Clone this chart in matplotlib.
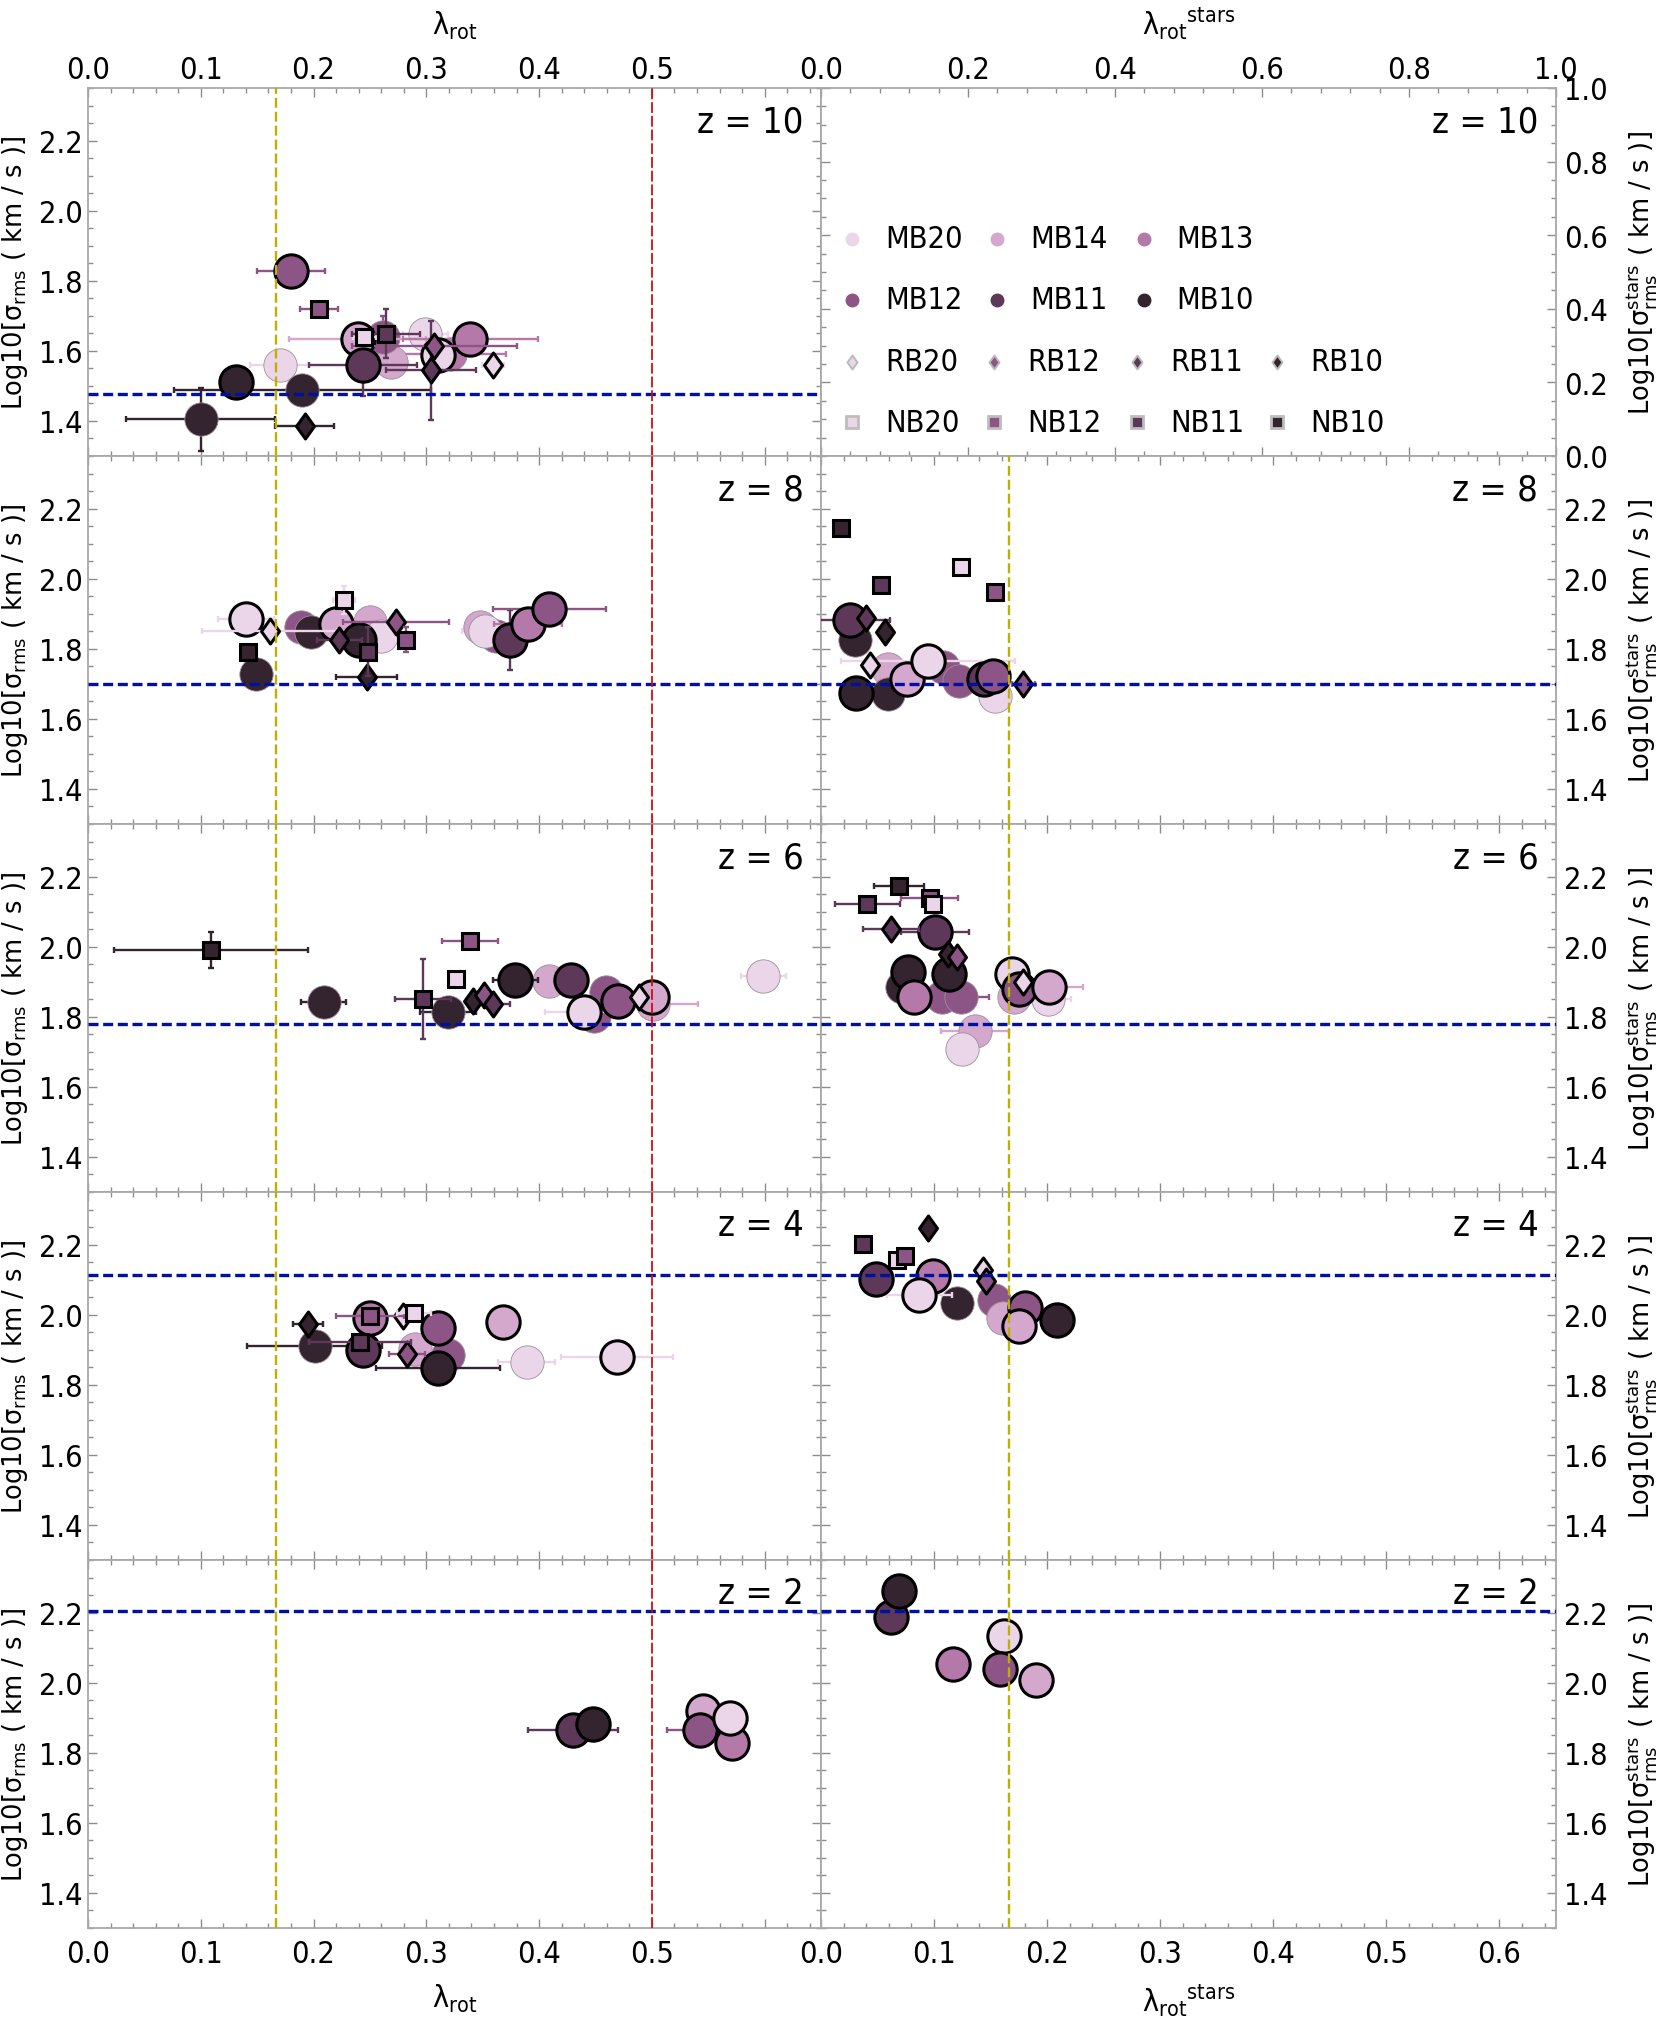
import matplotlib
matplotlib.use('Agg')
import matplotlib.pyplot as plt
from matplotlib.path import Path
from matplotlib.ticker import MultipleLocator, FixedLocator, FuncFormatter

plt.rcParams['font.family'] = ['Liberation Sans Narrow', 'DejaVu Sans']
plt.rcParams['font.stretch'] = 'condensed'
plt.rcParams['axes.unicode_minus'] = False

# ============================================================
# data
#   *_lbl : run name (MB = circles, RB = diamonds, NB = squares)
#   *_edge: 1 = point drawn with black outline, 0 = plain
# ============================================================
redshifts = [10, 8, 6, 4, 2]
sigma_ref = [1.477, 1.699, 1.778, 2.114, 2.204]   # blue dashed lines
lam_split = 0.1667                                 # yellow dashed line
lam_max = 0.5                                      # red dashed line (gas only)

# ---- gas, lambda_rot (left column) ----
z10_gas_lbl = ['MB20', 'MB20', 'MB13', 'MB14', 'MB12', 'MB10', 'MB10',
               'MB12', 'MB14', 'MB11', 'MB10', 'MB20', 'MB13',
               'RB12', 'RB11', 'RB20', 'RB10', 'NB12', 'NB20', 'NB11']
z10_gas_x = [0.170, 0.299, 0.321, 0.269, 0.262, 0.190, 0.100,
             0.180, 0.239, 0.244, 0.131, 0.310, 0.339,
             0.307, 0.304, 0.359, 0.192, 0.205, 0.245, 0.264]
z10_gas_y = [1.561, 1.649, 1.592, 1.568, 1.640, 1.488, 1.405,
             1.829, 1.635, 1.561, 1.510, 1.587, 1.635,
             1.613, 1.544, 1.560, 1.386, 1.719, 1.640, 1.649]
z10_gas_xe = [0.026, 0.020, 0.050, 0, 0, 0.114, 0.066,
              0.030, 0.061, 0.048, 0, 0, 0.060,
              0.073, 0.040, 0.010, 0.026, 0.017, 0.010, 0.030]
z10_gas_ye = [0, 0, 0, 0, 0.06, 0, 0.09,
              0, 0, 0.09, 0, 0, 0,
              0, 0.14, 0, 0.013, 0, 0, 0.07]
z10_gas_edge = [0, 0, 0, 0, 0, 0, 0,
                1, 1, 1, 1, 1, 1,
                1, 1, 1, 1, 1, 1, 1]

z8_gas_lbl = ['MB10', 'MB12', 'MB10', 'MB14', 'MB20', 'MB14', 'MB12', 'MB20',
              'MB20', 'MB14', 'MB10', 'MB11', 'MB13', 'MB12',
              'RB20', 'RB11', 'RB12', 'RB10', 'NB10', 'NB20', 'NB12', 'NB11']
z8_gas_x = [0.149, 0.189, 0.198, 0.250, 0.260, 0.348, 0.362, 0.352,
            0.140, 0.220, 0.240, 0.374, 0.390, 0.409,
            0.161, 0.223, 0.273, 0.247, 0.142, 0.227, 0.282, 0.248]
z8_gas_y = [1.728, 1.861, 1.847, 1.875, 1.837, 1.862, 1.835, 1.850,
            1.885, 1.871, 1.824, 1.824, 1.871, 1.913,
            1.850, 1.826, 1.875, 1.719, 1.790, 1.940, 1.826, 1.792]
z8_gas_xe = [0, 0, 0, 0, 0, 0, 0, 0.020,
             0.025, 0, 0, 0, 0.030, 0.050,
             0.060, 0.020, 0.047, 0.027, 0.006, 0.010, 0, 0]
z8_gas_ye = [0, 0, 0, 0, 0, 0, 0, 0,
             0, 0, 0, 0.086, 0, 0,
             0, 0, 0, 0, 0, 0.040, 0.035, 0.070]
z8_gas_edge = [0, 0, 0, 0, 0, 0, 0, 0,
               1, 1, 1, 1, 1, 1,
               1, 1, 1, 1, 1, 1, 1, 1]

z6_gas_lbl = ['MB10', 'MB10', 'MB14', 'MB12', 'MB12', 'MB14', 'MB20',
              'MB10', 'MB11', 'MB20', 'MB12', 'MB14',
              'RB10', 'RB12', 'RB11', 'RB20', 'NB10', 'NB11', 'NB12', 'NB20']
z6_gas_x = [0.209, 0.319, 0.409, 0.449, 0.459, 0.501, 0.599,
            0.379, 0.428, 0.440, 0.470, 0.500,
            0.341, 0.351, 0.359, 0.489, 0.109, 0.297, 0.339, 0.326]
z6_gas_y = [1.843, 1.813, 1.901, 1.803, 1.870, 1.836, 1.917,
            1.905, 1.905, 1.815, 1.846, 1.855,
            1.846, 1.863, 1.836, 1.855, 1.990, 1.851, 2.017, 1.908]
z6_gas_xe = [0.020, 0.025, 0, 0, 0, 0.040, 0.020,
             0.020, 0, 0.035, 0, 0,
             0, 0, 0.015, 0, 0.086, 0.025, 0.025, 0]
z6_gas_ye = [0, 0, 0, 0, 0, 0, 0,
             0, 0, 0, 0, 0,
             0, 0, 0, 0, 0.052, 0.115, 0, 0.015]
z6_gas_edge = [0, 0, 0, 0, 0, 0, 0,
               1, 1, 1, 1, 1,
               1, 1, 1, 1, 1, 1, 1, 1]

z4_gas_lbl = ['MB10', 'MB14', 'MB12', 'MB20',
              'MB11', 'MB13', 'MB12', 'MB10', 'MB14', 'MB20',
              'RB10', 'RB20', 'RB12', 'NB11', 'NB12', 'NB20']
z4_gas_x = [0.201, 0.290, 0.319, 0.389,
            0.244, 0.250, 0.310, 0.310, 0.368, 0.469,
            0.195, 0.279, 0.283, 0.241, 0.250, 0.289]
z4_gas_y = [1.910, 1.902, 1.886, 1.866,
            1.898, 1.990, 1.961, 1.847, 1.980, 1.880,
            1.973, 1.997, 1.888, 1.923, 1.997, 2.005]
z4_gas_xe = [0.060, 0, 0, 0.025,
             0, 0, 0, 0.055, 0, 0.050,
             0.013, 0, 0.016, 0.045, 0.030, 0.015]
z4_gas_ye = [0, 0, 0, 0,
             0, 0, 0, 0, 0, 0,
             0, 0, 0, 0, 0, 0]
z4_gas_edge = [0, 0, 0, 0,
               1, 1, 1, 1, 1, 1,
               1, 1, 1, 1, 1, 1]

z2_gas_lbl = ['MB11', 'MB10', 'MB14', 'MB12', 'MB13', 'MB20']
z2_gas_x = [0.430, 0.448, 0.545, 0.543, 0.571, 0.569]
z2_gas_y = [1.865, 1.882, 1.920, 1.865, 1.828, 1.899]
z2_gas_xe = [0.040, 0, 0, 0.030, 0, 0]
z2_gas_ye = [0, 0, 0, 0, 0, 0]
z2_gas_edge = [1, 1, 1, 1, 1, 1]

# ---- stars, lambda_rot^stars (right column, z = 10 has only the legend) ----
z8_st_lbl = ['MB10', 'MB14', 'MB10', 'MB12', 'MB12', 'MB20',
             'MB11', 'MB10', 'MB14', 'MB20', 'MB11', 'MB12',
             'RB11', 'RB10', 'RB20', 'RB12', 'NB10', 'NB11', 'NB20', 'NB12']
z8_st_x = [0.030, 0.059, 0.059, 0.108, 0.122, 0.154,
           0.026, 0.031, 0.076, 0.095, 0.144, 0.152,
           0.040, 0.057, 0.043, 0.179, 0.018, 0.053, 0.124, 0.154]
z8_st_y = [1.826, 1.743, 1.671, 1.747, 1.709, 1.666,
           1.883, 1.673, 1.714, 1.764, 1.714, 1.723,
           1.887, 1.849, 1.753, 1.699, 2.144, 1.982, 2.032, 1.963]
z8_st_xe = [0, 0, 0, 0, 0, 0,
            0.035, 0, 0, 0.077, 0, 0,
            0, 0, 0, 0.010, 0, 0, 0, 0]
z8_st_ye = [0] * 20
z8_st_edge = [0, 0, 0, 0, 0, 0,
              1, 1, 1, 1, 1, 1,
              1, 1, 1, 1, 1, 1, 1, 1]

z6_st_lbl = ['MB10', 'MB12', 'MB12', 'MB14', 'MB20', 'MB14', 'MB20',
             'MB10', 'MB10', 'MB13', 'MB11', 'MB20', 'MB12', 'MB14',
             'RB11', 'RB10', 'RB12', 'RB20', 'NB11', 'NB10', 'NB12', 'NB20']
z6_st_x = [0.072, 0.107, 0.124, 0.171, 0.201, 0.136, 0.125,
           0.077, 0.113, 0.082, 0.101, 0.169, 0.175, 0.202,
           0.062, 0.112, 0.120, 0.179, 0.041, 0.069, 0.096, 0.099]
z6_st_y = [1.884, 1.856, 1.856, 1.856, 1.851, 1.760, 1.708,
           1.927, 1.922, 1.856, 2.041, 1.922, 1.879, 1.884,
           2.050, 1.979, 1.970, 1.900, 2.122, 2.172, 2.139, 2.122]
z6_st_xe = [0, 0, 0.025, 0, 0.020, 0.030, 0,
            0, 0, 0, 0.030, 0, 0, 0.030,
            0.025, 0, 0, 0, 0.029, 0.022, 0.025, 0]
z6_st_ye = [0] * 22
z6_st_edge = [0, 0, 0, 0, 0, 0, 0,
              1, 1, 1, 1, 1, 1, 1,
              1, 1, 1, 1, 1, 1, 1, 1]

z4_st_lbl = ['MB10', 'MB12', 'MB14',
             'MB11', 'MB13', 'MB20', 'MB12', 'MB14', 'MB10',
             'RB10', 'RB20', 'RB12', 'NB11', 'NB20', 'NB12']
z4_st_x = [0.120, 0.153, 0.161,
           0.049, 0.099, 0.087, 0.180, 0.175, 0.209,
           0.095, 0.143, 0.146, 0.037, 0.067, 0.074]
z4_st_y = [2.032, 2.043, 1.991,
           2.102, 2.111, 2.056, 2.019, 1.967, 1.984,
           2.247, 2.128, 2.095, 2.202, 2.155, 2.167]
z4_st_xe = [0, 0, 0,
            0, 0, 0.029, 0, 0, 0,
            0, 0, 0, 0, 0, 0]
z4_st_ye = [0] * 15
z4_st_edge = [0, 0, 0,
              1, 1, 1, 1, 1, 1,
              1, 1, 1, 1, 1, 1]

z2_st_lbl = ['MB11', 'MB10', 'MB20', 'MB13', 'MB12', 'MB14']
z2_st_x = [0.062, 0.069, 0.162, 0.117, 0.158, 0.190]
z2_st_y = [2.188, 2.262, 2.134, 2.052, 2.040, 2.007]
z2_st_xe = [0] * 6
z2_st_ye = [0] * 6
z2_st_edge = [1] * 6

gas_panels = [
    (z10_gas_lbl, z10_gas_x, z10_gas_y, z10_gas_xe, z10_gas_ye, z10_gas_edge),
    (z8_gas_lbl, z8_gas_x, z8_gas_y, z8_gas_xe, z8_gas_ye, z8_gas_edge),
    (z6_gas_lbl, z6_gas_x, z6_gas_y, z6_gas_xe, z6_gas_ye, z6_gas_edge),
    (z4_gas_lbl, z4_gas_x, z4_gas_y, z4_gas_xe, z4_gas_ye, z4_gas_edge),
    (z2_gas_lbl, z2_gas_x, z2_gas_y, z2_gas_xe, z2_gas_ye, z2_gas_edge),
]
star_panels = [
    None,
    (z8_st_lbl, z8_st_x, z8_st_y, z8_st_xe, z8_st_ye, z8_st_edge),
    (z6_st_lbl, z6_st_x, z6_st_y, z6_st_xe, z6_st_ye, z6_st_edge),
    (z4_st_lbl, z4_st_x, z4_st_y, z4_st_xe, z4_st_ye, z4_st_edge),
    (z2_st_lbl, z2_st_x, z2_st_y, z2_st_xe, z2_st_ye, z2_st_edge),
]

legend_rows = [['MB20', 'MB14', 'MB13'],
               ['MB12', 'MB11', 'MB10'],
               ['RB20', 'RB12', 'RB11', 'RB10'],
               ['NB20', 'NB12', 'NB11', 'NB10']]

# ============================================================
# styles
# ============================================================
SHADE = {'20': '#EBD6E9', '14': '#D4A7CD', '13': '#B479A9',
         '12': '#8D5486', '11': '#5D3859', '10': '#34242F'}
DIAMOND = Path([(0, 1), (0.72, 0), (0, -1), (-0.72, 0), (0, 1)], closed=True)
MARK = {'MB': ('o', 24, 3), 'RB': (DIAMOND, 18, 5), 'NB': ('s', 12, 6)}

TICK_FS = 22
GREY = '#8c8c8c'


def draw_points(ax, lbl, x, y, xe, ye, edge):
    for i, name in enumerate(lbl):
        col = SHADE[name[2:]]
        mk, ms, z = MARK[name[:2]]
        if name[:2] == 'MB' and edge[i]:
            z += 1
        if xe[i] or ye[i]:
            ax.errorbar(x[i], y[i], xerr=xe[i] if xe[i] else None,
                        yerr=ye[i] if ye[i] else None, fmt='none', ecolor=col,
                        elinewidth=1.7, capsize=2.5, capthick=1.7, zorder=z - 0.5)
        ax.plot(x[i], y[i], ls='none', marker=mk, ms=ms, mfc=col,
                mec='black' if edge[i] else '#9c8e9a',
                mew=2.2 if edge[i] else 0.6, zorder=z)


def style_frame(ax):
    for sp in ax.spines.values():
        sp.set_color('#a8a8a8')
        sp.set_linewidth(1.3)
    ax.tick_params(which='both', direction='in', top=True, right=True,
                   bottom=True, left=True, color=GREY, width=1.0,
                   labelsize=TICK_FS)
    ax.tick_params(which='major', length=6.5)
    ax.tick_params(which='minor', length=3.5)
    ax.tick_params(axis='x', which='major', pad=8)
    ax.tick_params(axis='y', which='major', pad=4)


fig = plt.figure(figsize=(16.61, 20.24), dpi=100)
W, H = 1661.0, 2024.0
top0, row_h = 89.0, 368.0
left_x0, left_w = 88.0, 733.0
right_x0, right_w = 821.0, 735.0

lam_lbl = 'λ$\\mathregular{_{rot}}$'
lam_st_lbl = 'λ$\\mathregular{_{rot}{}^{stars}}$'
ylab_gas = 'Log10[$\\mathregular{σ_{rms}}$ ( km / s )]'
ylab_st = 'Log10[$\\mathregular{σ^{stars}_{rms}}$ ( km / s )]'

left_fmt = FuncFormatter(lambda v, p: '' if v > 0.55 else '%.1f' % v)

for r in range(5):
    bottom = 1 - (top0 + row_h * (r + 1)) / H
    hgt = row_h / H

    # ---------------- left: gas ----------------
    ax = fig.add_axes([left_x0 / W, bottom, left_w / W, hgt])
    ax.set_xlim(0, 0.65)
    ax.set_ylim(1.3, 2.35)
    ax.xaxis.set_major_locator(FixedLocator([0, 0.1, 0.2, 0.3, 0.4, 0.5, 0.6]))
    ax.xaxis.set_major_formatter(left_fmt)
    ax.xaxis.set_minor_locator(MultipleLocator(0.02))
    ax.yaxis.set_major_locator(FixedLocator([1.4, 1.6, 1.8, 2.0, 2.2]))
    ax.yaxis.set_major_formatter(FuncFormatter(lambda v, p: '%.1f' % v))
    ax.yaxis.set_minor_locator(MultipleLocator(0.05))
    style_frame(ax)
    ax.tick_params(labeltop=(r == 0), labelbottom=(r == 4),
                   labelleft=True, labelright=False)
    if r == 0:
        ax.tick_params(axis='x', which='major', pad=3)
        ax.xaxis.set_label_position('top')
        ax.set_xlabel(lam_lbl, fontsize=TICK_FS, labelpad=15)
    if r == 4:
        ax.set_xlabel(lam_lbl, fontsize=TICK_FS, labelpad=10)
    ax.set_ylabel(ylab_gas, family='DejaVu Sans', stretch='normal',
                  fontsize=18.5, labelpad=6)

    draw_points(ax, *gas_panels[r])
    ax.axhline(sigma_ref[r], color='#0010A0', lw=2.4, ls=(0, (3.0, 1.4)), zorder=10)
    ax.axvline(lam_split, color='#BDB000', lw=1.7, ls=(0, (4.2, 1.7)), zorder=10)
    ax.axvline(lam_max, color='#CC1010', lw=1.3, ls=(0, (6.0, 1.6)), zorder=10)
    ax.text(0.976, 0.909, 'z = %d' % redshifts[r], transform=ax.transAxes,
            ha='right', va='center', fontsize=26)

    # ---------------- right: stars ----------------
    ax = fig.add_axes([right_x0 / W, bottom, right_w / W, hgt])
    if r == 0:
        ax.set_xlim(0, 1)
        ax.set_ylim(0, 1)
        ax.xaxis.set_major_locator(MultipleLocator(0.2))
        ax.xaxis.set_minor_locator(MultipleLocator(0.04))
        ax.yaxis.set_major_locator(MultipleLocator(0.2))
        ax.yaxis.set_minor_locator(MultipleLocator(0.05))
        ax.xaxis.set_major_formatter(FuncFormatter(lambda v, p: '%.1f' % v))
        ax.yaxis.set_major_formatter(FuncFormatter(lambda v, p: '%.1f' % v))
        style_frame(ax)
        ax.tick_params(labeltop=True, labelbottom=False,
                       labelleft=False, labelright=True)
        ax.tick_params(axis='x', which='major', pad=3)
        ax.xaxis.set_label_position('top')
        ax.set_xlabel(lam_st_lbl, fontsize=TICK_FS, labelpad=15)

        # legend, drawn by hand
        row_y = [0.590, 0.425, 0.256, 0.092]
        col_x3 = [0.042, 0.240, 0.439]
        col_x4 = [0.042, 0.236, 0.430, 0.621]
        for k, names in enumerate(legend_rows):
            cx = col_x3 if len(names) == 3 else col_x4
            for j, name in enumerate(names):
                col = SHADE[name[2:]]
                kind = name[:2]
                if kind == 'MB':
                    ax.plot(cx[j], row_y[k], 'o', ms=9, mfc=col, mec=col,
                            transform=ax.transAxes)
                elif kind == 'RB':
                    ax.plot(cx[j], row_y[k], ls='none', marker=DIAMOND, ms=10,
                            mfc=col, mec='#b9b9b9', mew=1.4,
                            transform=ax.transAxes)
                else:
                    ax.plot(cx[j], row_y[k], 's', ms=8, mfc=col, mec='#bdbdbd',
                            mew=2.0, transform=ax.transAxes)
                ax.text(cx[j] + 0.045, row_y[k], name, transform=ax.transAxes,
                        ha='left', va='center', fontsize=22)
    else:
        ax.set_xlim(0, 0.65)
        ax.set_ylim(1.3, 2.35)
        ax.xaxis.set_major_locator(FixedLocator([0, 0.1, 0.2, 0.3, 0.4, 0.5, 0.6]))
        ax.xaxis.set_major_formatter(FuncFormatter(lambda v, p: '%.1f' % v))
        ax.xaxis.set_minor_locator(MultipleLocator(0.02))
        ax.yaxis.set_major_locator(FixedLocator([1.4, 1.6, 1.8, 2.0, 2.2]))
        ax.yaxis.set_major_formatter(FuncFormatter(lambda v, p: '%.1f' % v))
        ax.yaxis.set_minor_locator(MultipleLocator(0.05))
        style_frame(ax)
        ax.tick_params(labeltop=False, labelbottom=(r == 4),
                       labelleft=False, labelright=True)
        if r == 4:
            ax.set_xlabel(lam_st_lbl, fontsize=TICK_FS, labelpad=10)
        draw_points(ax, *star_panels[r])
        ax.axhline(sigma_ref[r], color='#0010A0', lw=2.4, ls=(0, (3.0, 1.4)), zorder=10)
        ax.axvline(lam_split, color='#BDB000', lw=1.7, ls=(0, (4.2, 1.7)), zorder=10)
    ax.tick_params(axis='y', which='major', pad=6)
    ax.yaxis.set_label_position('right')
    ax.set_ylabel(ylab_st, family='DejaVu Sans', stretch='normal',
                  fontsize=18.5, labelpad=12, rotation=90)
    ax.text(0.976, 0.909, 'z = %d' % redshifts[r], transform=ax.transAxes,
            ha='right', va='center', fontsize=26)

fig.savefig('out.png', dpi=100)
